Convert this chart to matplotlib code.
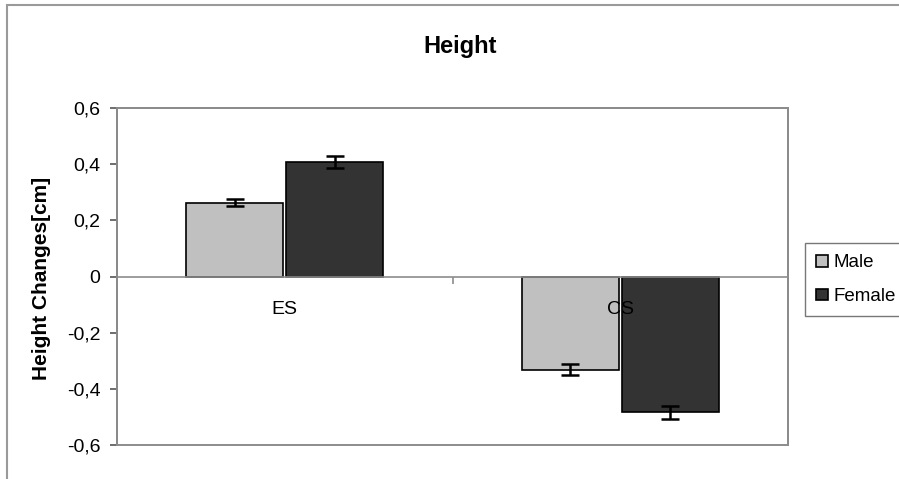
import matplotlib
matplotlib.use("Agg")
import matplotlib.pyplot as plt
import numpy as np
from matplotlib.patches import Rectangle

plt.rcParams["font.family"] = ["Liberation Sans", "DejaVu Sans"]

categories = ["ES", "CS"]
series = ["Male", "Female"]
male_values = [0.263, -0.332]
male_errors = [0.013, 0.020]
female_values = [0.408, -0.484]
female_errors = [0.020, 0.024]
y_ticks = [-0.6, -0.4, -0.2, 0, 0.2, 0.4, 0.6]
y_tick_labels = ["-0,6", "-0,4", "-0,2", "0", "0,2", "0,4", "0,6"]

W, H = 899, 479
fig = plt.figure(figsize=(W / 100, H / 100), dpi=100)

# chart frame (runs off the right and bottom edges like the source)
fig.patches.append(Rectangle((7 / W, -0.1), 1.2, 1.1 - 5 / H, transform=fig.transFigure,
                             fill=False, edgecolor="#9a9a9a", linewidth=1.5))

ax = fig.add_axes([117 / W, (H - 445) / H, (788 - 117) / W, (445 - 108) / H])

x = np.arange(len(categories))
width = 0.289
offset = 0.149
err_kw = {"ecolor": "black", "elinewidth": 1.8, "capsize": 6.5, "capthick": 1.8}
ax.bar(x - offset, male_values, width, yerr=male_errors, color="#c0c0c0",
       edgecolor="black", linewidth=1.2, label=series[0], error_kw=err_kw, zorder=3)
ax.bar(x + offset, female_values, width, yerr=female_errors, color="#333333",
       edgecolor="black", linewidth=1.2, label=series[1], error_kw=err_kw, zorder=3)

ax.set_xlim(-0.5, len(categories) - 0.5)
ax.set_ylim(-0.6, 0.6)
ax.set_yticks(y_ticks)
ax.set_yticklabels(y_tick_labels, fontsize=14)
ax.tick_params(axis="y", direction="out", length=5, width=1.2, color="#555555", pad=7)

# category axis sits on the zero line, labels drawn over the bars
ax.spines["bottom"].set_position(("data", 0))
ax.spines["bottom"].set_color("#8c8c8c")
ax.spines["bottom"].set_linewidth(1.2)
ax.spines["bottom"].set_zorder(4)
ax.xaxis.set_zorder(5)
ax.set_xticks(x)
ax.set_xticklabels(categories, fontsize=14)
ax.set_xticks(np.arange(len(categories) + 1) - 0.5, minor=True)
ax.tick_params(axis="x", which="major", length=0, pad=18)
ax.tick_params(axis="x", which="minor", direction="out", length=5, width=1.2, color="#8c8c8c")

ax.spines["left"].set_color("#555555")
ax.spines["left"].set_linewidth(1.4)
for s in ["top", "right"]:
    ax.spines[s].set_color("#8c8c8c")
    ax.spines[s].set_linewidth(1.2)
ax.add_patch(Rectangle((0, 0), 1, 1, transform=ax.transAxes, fill=False,
                       edgecolor="#8c8c8c", linewidth=1.4, clip_on=False, zorder=4))

fig.text(460 / W, 1 - 47 / H, "Height", ha="center", va="center", fontsize=17, fontweight="bold")
fig.text(42 / W, 1 - 278 / H, "Height Changes[cm]", ha="center", va="center",
         rotation=90, fontsize=15, fontweight="bold")

leg = fig.legend(loc="upper left", bbox_to_anchor=(805 / W, 1 - 243 / H), fontsize=13.5,
                 frameon=True, fancybox=False, edgecolor="#555555", borderpad=0.6,
                 handlelength=0.6, handleheight=0.6, handletextpad=0.3, labelspacing=0.9,
                 borderaxespad=0)
leg.get_frame().set_linewidth(1.0)

fig.savefig("out.png", dpi=100)
